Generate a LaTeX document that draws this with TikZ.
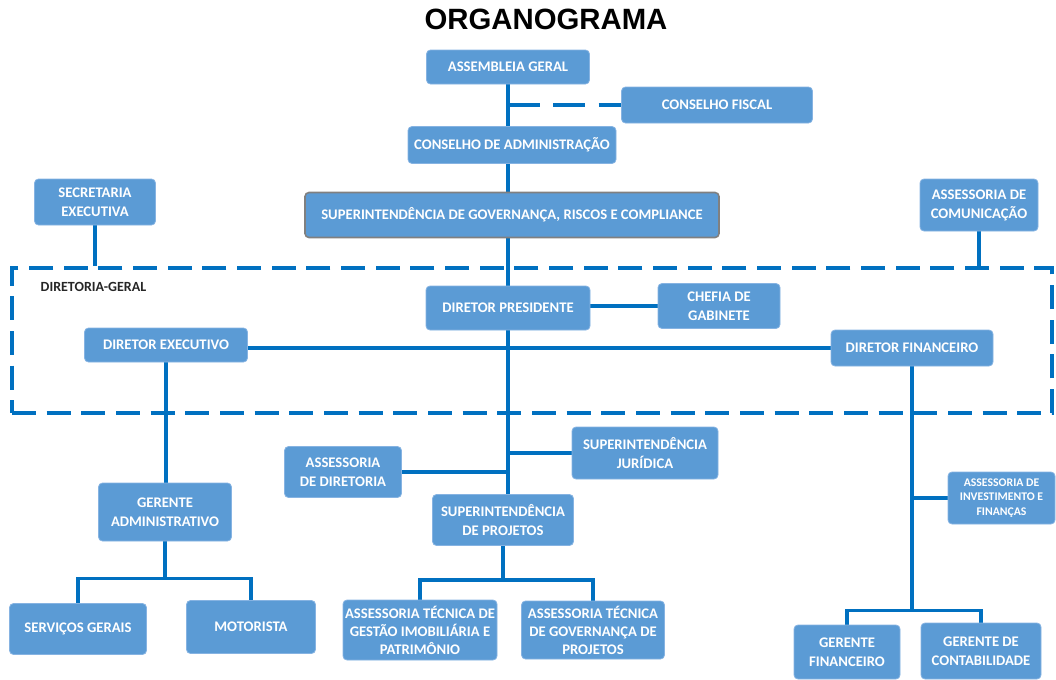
\documentclass[tikz,border=0pt]{standalone}
\usepackage{fontspec}
\setmainfont{Carlito}
\newfontfamily\titlefont{Liberation Sans}
\usetikzlibrary{backgrounds}
\definecolor{boxblue}{HTML}{5B9BD5}
\definecolor{linkblue}{HTML}{0070C0}
\definecolor{boxedge}{HTML}{86B3E2}
\begin{document}
\begin{tikzpicture}[x=0.75pt,y=-0.75pt,
        orgbox/.style={draw=boxedge, line width=0.6pt, fill=boxblue, rounded corners=3pt, text=white,
            font=\bfseries\fontsize{11}{14.2}\selectfont, align=center, inner sep=0pt},
        wh/.style 2 args={minimum width=#1*0.75pt, minimum height=#2*0.75pt},
        link/.style={draw=linkblue, line width=2.4pt},
        dashlink/.style={link, dash pattern=on 24pt off 10pt},
        frame/.style={draw=linkblue, line width=2.4pt, dash pattern=on 18pt off 8pt, inner sep=0pt}]
    \useasboundingbox (0,0) rectangle (1056,679);
    \node [font=\titlefont\bfseries\fontsize{22}{26}\selectfont] (title) at (546,19) {ORGANOGRAMA};
    \node [frame, wh={1040}{145}] (dg) at (532,340.5) {};
    \node [anchor=west, text=black!85, font=\bfseries\fontsize{10.5}{12}\selectfont] (dglabel) at (36,287) {DIRETORIA-GERAL};
    \node [orgbox, wh={163}{34}] (ag) at (508,67) {ASSEMBLEIA GERAL};
    \node [orgbox, wh={191}{36}] (cf) at (717,105) {CONSELHO FISCAL};
    \node [orgbox, wh={208}{37}] (ca) at (512,145) {CONSELHO DE ADMINISTRAÇÃO};
    \node [orgbox, draw=black!50, line width=1.2pt, wh={414}{45}] (sgrc) at (512,215) {SUPERINTENDÊNCIA DE GOVERNANÇA, RISCOS E COMPLIANCE};
    \node [orgbox, wh={121}{46}] (se) at (95,202) {SECRETARIA\\EXECUTIVA};
    \node [orgbox, wh={118}{52}] (ac) at (979,205) {ASSESSORIA DE\\COMUNICAÇÃO};
    \node [orgbox, wh={164}{44}] (dp) at (508,308) {DIRETOR PRESIDENTE};
    \node [orgbox, wh={122}{45}] (cg) at (719,306) {CHEFIA DE\\GABINETE};
    \node [orgbox, wh={163}{34}] (de) at (166,345) {DIRETOR EXECUTIVO};
    \node [orgbox, wh={162}{36}] (df) at (912,348) {DIRETOR FINANCEIRO};
    \node [orgbox, wh={146}{52}] (sj) at (645,453) {SUPERINTENDÊNCIA\\JURÍDICA};
    \node [orgbox, wh={117}{51}] (ad) at (343,472) {ASSESSORIA\\DE DIRETORIA};
    \node [orgbox, wh={141}{51}] (sp) at (503,520) {SUPERINTENDÊNCIA\\DE PROJETOS};
    \node [orgbox, wh={133}{58}] (ga) at (165,512) {GERENTE\\ADMINISTRATIVO};
    \node [orgbox, wh={137}{51}] (sg) at (78,629) {SERVIÇOS GERAIS};
    \node [orgbox, wh={129}{53}] (mo) at (251,627) {MOTORISTA};
    \node [orgbox, font=\bfseries\fontsize{11}{13.5}\selectfont, wh={154}{60}] (atg) at (420,630) {ASSESSORIA TÉCNICA DE\\GESTÃO IMOBILIÁRIA E\\PATRIMÔNIO};
    \node [orgbox, font=\bfseries\fontsize{11}{13.5}\selectfont, wh={143}{58}] (atp) at (593,630) {ASSESSORIA TÉCNICA\\DE GOVERNANÇA DE\\PROJETOS};
    \node [orgbox, font=\bfseries\fontsize{8.8}{11}\selectfont, wh={107}{52}] (aif) at (1001.5,498) {ASSESSORIA DE\\INVESTIMENTO E\\FINANÇAS};
    \node [orgbox, wh={106}{54}] (gf) at (847,652) {GERENTE\\FINANCEIRO};
    \node [orgbox, wh={120}{56}] (gc) at (981,651) {GERENTE DE\\CONTABILIDADE};
    \begin{scope}[on background layer]
        \draw [link] (ag.south) -- (dp.north);
        \draw [dashlink] (ag.south |- cf.west) -- (cf.west);
        \draw [link] (se.south) -- (se.south |- dg.north);
        \draw [link] (ac.south) -- (ac.south |- dg.north);
        \draw [link] (dp.east |- cg.west) -- (cg.west);
        \draw [link] (de.east |- df.west) -- (df.west);
        \draw [link] (dp.south) -- (dp.south |- sp.north);
        \draw [link] (dp.south |- sj.west) -- (sj.west);
        \draw [link] (ad.east) -- (ad.east -| dp.south);
        \draw [link] (de.south) -- (de.south |- ga.north);
        \path (ga.south) ++(0,37) coordinate (gajoin);
        \draw [link] (ga.south) -- (gajoin) -| (sg.north);
        \draw [link] (gajoin) -| (mo.north);
        \path (sp.south) ++(0,34) coordinate (spjoin);
        \draw [link] (sp.south) -- (spjoin) -| (atg.north);
        \draw [link] (spjoin) -| (atp.north);
        \path (df.south) ++(0,244) coordinate (dfjoin);
        \draw [link] (df.south) -- (dfjoin) -| (gf.north);
        \draw [link] (dfjoin) -| (gc.north);
        \draw [link] (df.south |- aif.west) -- (aif.west);
    \end{scope}
\end{tikzpicture}
\end{document}
